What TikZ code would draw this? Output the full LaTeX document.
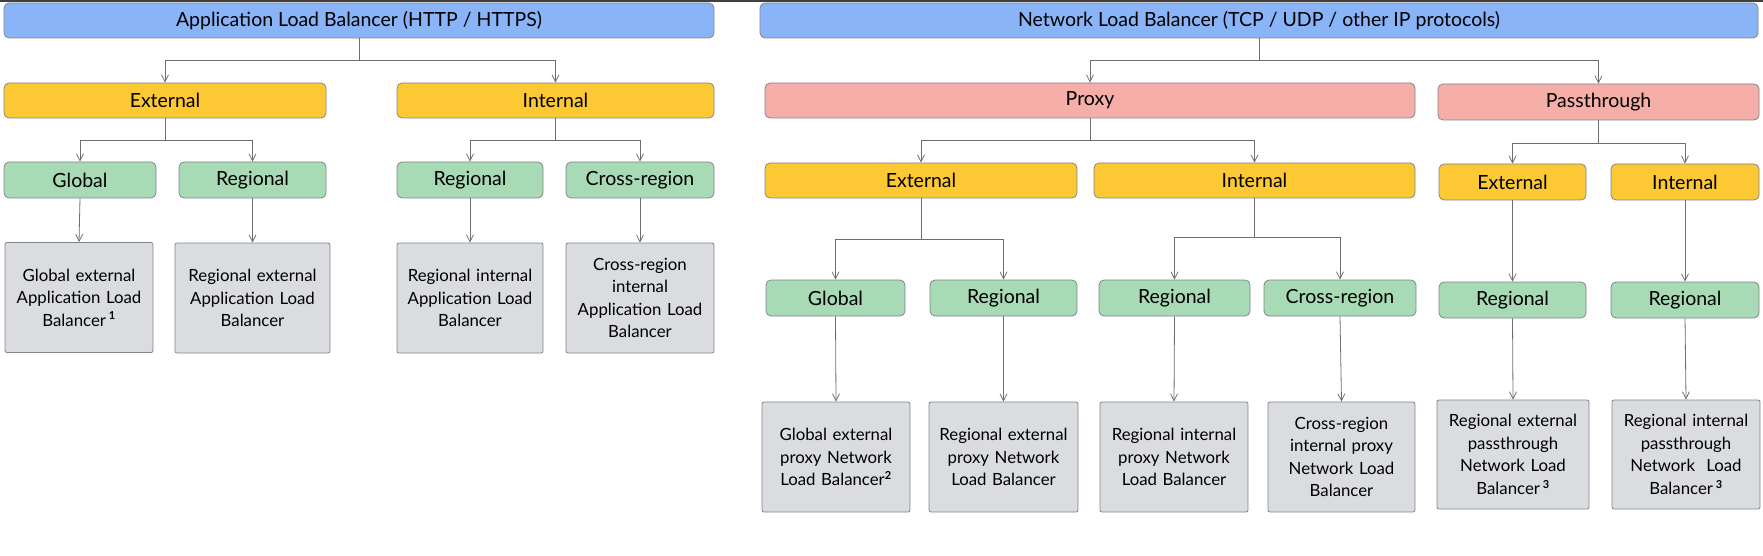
\documentclass[tikz,border=0pt]{standalone}
\usepackage{fontspec}
\setmainfont{Lato}
\usetikzlibrary{arrows.meta}
\definecolor{cblue}{HTML}{8AB4F8}
\definecolor{cyellow}{HTML}{FCC934}
\definecolor{cpink}{HTML}{F6AEA9}
\definecolor{cgreen}{HTML}{A8DAB5}
\definecolor{cgray}{HTML}{DADCE0}
\definecolor{cborder}{HTML}{80868B}
\definecolor{cline}{HTML}{6E6E6E}
\newcommand{\sups}[1]{\textsuperscript{\bfseries\fontsize{11}{11}\selectfont #1}}
\begin{document}
\begin{tikzpicture}[x=1pt,y=-1pt,
  box/.style={draw=cborder, line width=0.8pt, rounded corners=5pt, inner sep=0pt, align=center, font=\fontsize{19.5}{22}\selectfont},
  top/.style={box, fill=cblue, minimum height=35pt},
  lvl/.style={box, fill=cyellow, minimum height=35pt},
  mode/.style={box, fill=cpink, minimum height=35pt},
  scp/.style={box, fill=cgreen, minimum height=36pt},
  leaf/.style={draw=cborder, line width=0.8pt, rounded corners=2pt, fill=cgray, inner sep=0pt, align=center, minimum height=110pt, font=\fontsize{16.8}{22.5}\selectfont},
  arr/.style={draw=cline, line width=0.8pt, -{Straight Barb[length=7pt,width=7pt]}}
]
\useasboundingbox (0,0) rectangle (1763,556);
\fill[black!75] (0,0) rectangle (1763,2.5);

% ---------------- ALB ----------------
\node[top, minimum width=710pt] (alb) at (359,20.5) {Application Load Balancer (HTTP / HTTPS)};
\node[lvl, minimum width=322pt] (aext) at (165,100.5) {External};
\node[lvl, minimum width=317pt] (aint) at (555.5,100.5) {Internal};
\node[scp, minimum width=152pt] (agl) at (80,180) {Global};
\node[scp, minimum width=147pt] (areg) at (252.5,180) {Regional};
\node[scp, minimum width=146pt] (aireg) at (470,180) {Regional};
\node[scp, minimum width=148pt] (acr) at (640,180) {Cross-region};
\node[leaf, minimum width=148pt, text width=144pt] (g1) at (79,297.5) {Global external\\Application Load\\Balancer\,\sups{1}};
\node[leaf, minimum width=155pt, text width=151pt] (g2) at (252.5,298) {Regional external\\Application Load\\Balancer};
\node[leaf, minimum width=146pt, text width=144pt] (g3) at (470,298) {Regional internal\\Application Load\\Balancer};
\node[leaf, minimum width=148pt, text width=144pt] (g4) at (640,298) {Cross-region\\internal\\Application Load\\Balancer};

\draw[arr] (alb.south) -- ++(0,22) -| (aext.north);
\draw[arr] (alb.south) -- ++(0,22) -| (aint.north);
\draw[arr] (aext.south) -- ++(0,22) -| (agl.north);
\draw[arr] (aext.south) -- ++(0,22) -| (areg.north);
\draw[arr] (aint.south) -- ++(0,22) -| (aireg.north);
\draw[arr] (aint.south) -- ++(0,22) -| (acr.north);
\draw[arr] (agl.south) -- (g1.north);
\draw[arr] (areg.south) -- (g2.north);
\draw[arr] (aireg.south) -- (g3.north);
\draw[arr] (acr.south) -- (g4.north);

% ---------------- NLB ----------------
\node[top, minimum width=998pt] (nlb) at (1259,20.5) {Network Load Balancer (TCP / UDP / other IP protocols)};
\node[mode, minimum width=650pt] (proxy) at (1090,100.5) {Proxy};
\node[mode, minimum width=321pt, minimum height=36pt] (pass) at (1598.5,102) {Passthrough};
\node[lvl, minimum width=312pt] (pext) at (921,180.5) {External};
\node[lvl, minimum width=321pt] (pint) at (1254.5,180.5) {Internal};
\node[lvl, minimum width=147pt, minimum height=36pt] (sext) at (1512.5,182) {External};
\node[lvl, minimum width=148pt, minimum height=36pt] (sint) at (1685,182) {Internal};
\node[scp, minimum width=139pt] (ngl) at (835.5,298) {Global};
\node[scp, minimum width=147pt] (nreg) at (1003.5,298) {Regional};
\node[scp, minimum width=151pt] (nireg) at (1174.5,298) {Regional};
\node[scp, minimum width=152pt] (ncr) at (1340,298) {Cross-region};
\node[scp, minimum width=147pt] (sreg1) at (1512.5,300) {Regional};
\node[scp, minimum width=148pt] (sreg2) at (1685,300) {Regional};
\node[leaf, minimum width=148pt, text width=144pt] (n1) at (836,457) {Global external\\proxy Network\\Load Balancer\sups{2}};
\node[leaf, minimum width=149pt, text width=145pt] (n2) at (1003.5,457) {Regional external\\proxy Network\\Load Balancer};
\node[leaf, minimum width=148pt, text width=144pt] (n3) at (1174,457) {Regional internal\\proxy Network\\Load Balancer};
\node[leaf, minimum width=147pt, text width=143pt] (n4) at (1341.5,457) {Cross-region\\internal proxy\\Network Load\\Balancer};
\node[leaf, minimum width=152pt, text width=148pt, minimum height=109pt] (n5) at (1513,454.5) {Regional external\\passthrough\\Network Load\\Balancer\,\sups{3}};
\node[leaf, minimum width=148pt, text width=144pt, minimum height=109pt] (n6) at (1686,454.5) {Regional internal\\passthrough\\Network\ \ Load\\Balancer\,\sups{3}};

\draw[arr] (nlb.south) -- ++(0,22.5) -| (proxy.north);
\draw[arr] (nlb.south) -- ++(0,22.5) -| (pass.north);
\draw[arr] (proxy.south) -- ++(0,22) -| (pext.north);
\draw[arr] (proxy.south) -- ++(0,22) -| (pint.north);
\draw[arr] (pass.south) -- ++(0,23) -| (sext.north);
\draw[arr] (pass.south) -- ++(0,23) -| (sint.north);
\draw[arr] (pext.south) -- ++(0,41) -| (ngl.north);
\draw[arr] (pext.south) -- ++(0,41) -| (nreg.north);
\draw[arr] (pint.south) -- ++(0,39) -| (nireg.north);
\draw[arr] (pint.south) -- ++(0,39) -| (ncr.north);
\draw[arr] (sext.south) -- (sreg1.north);
\draw[arr] (sint.south) -- (sreg2.north);
\draw[arr] (ngl.south) -- (n1.north);
\draw[arr] (nreg.south) -- (n2.north);
\draw[arr] (nireg.south) -- (n3.north);
\draw[arr] (ncr.south) -- (n4.north);
\draw[arr] (sreg1.south) -- (n5.north);
\draw[arr] (sreg2.south) -- (n6.north);
\end{tikzpicture}
\end{document}
